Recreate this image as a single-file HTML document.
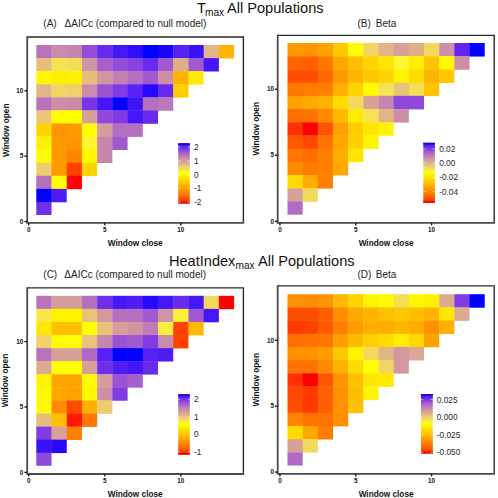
<!DOCTYPE html>
<html><head><meta charset="utf-8"><style>
html,body{margin:0;padding:0;background:#fff;}
svg{display:block;}
text{font-family:"Liberation Sans", sans-serif;}
.tt{font-size:14.6px;fill:#111;}
.sub{font-size:10.1px;fill:#111;}
.st{font-size:10px;fill:#222;}
.ax{font-size:8.25px;font-weight:bold;fill:#111;}
.tk{font-size:6.3px;fill:#111;font-weight:bold;}
.lg{font-size:8.3px;fill:#262626;}
</style></head><body><div class="bw">
<svg width="498" height="498" viewBox="0 0 498 498">
<defs><linearGradient id="g" x1="0" y1="0" x2="0" y2="1"><stop offset="0.000" stop-color="#0000ff"/><stop offset="0.025" stop-color="#3f14f9"/><stop offset="0.050" stop-color="#5821f3"/><stop offset="0.075" stop-color="#6a2dec"/><stop offset="0.100" stop-color="#803be3"/><stop offset="0.125" stop-color="#924ad9"/><stop offset="0.150" stop-color="#a159cf"/><stop offset="0.175" stop-color="#af67c5"/><stop offset="0.200" stop-color="#b973bc"/><stop offset="0.225" stop-color="#c27fb3"/><stop offset="0.250" stop-color="#ca8aaa"/><stop offset="0.275" stop-color="#d196a0"/><stop offset="0.300" stop-color="#d8a197"/><stop offset="0.325" stop-color="#dead8c"/><stop offset="0.350" stop-color="#e4b982"/><stop offset="0.375" stop-color="#eac476"/><stop offset="0.400" stop-color="#efd06a"/><stop offset="0.425" stop-color="#f3dc5b"/><stop offset="0.450" stop-color="#f8e74a"/><stop offset="0.475" stop-color="#fbf334"/><stop offset="0.500" stop-color="#ffff00"/><stop offset="0.525" stop-color="#fff600"/><stop offset="0.550" stop-color="#ffed00"/><stop offset="0.575" stop-color="#ffe400"/><stop offset="0.600" stop-color="#ffdb00"/><stop offset="0.625" stop-color="#ffd100"/><stop offset="0.650" stop-color="#ffc800"/><stop offset="0.675" stop-color="#ffbf00"/><stop offset="0.700" stop-color="#ffb500"/><stop offset="0.725" stop-color="#ffab00"/><stop offset="0.750" stop-color="#ffa100"/><stop offset="0.775" stop-color="#ff9700"/><stop offset="0.800" stop-color="#ff8d00"/><stop offset="0.825" stop-color="#ff8200"/><stop offset="0.850" stop-color="#ff7700"/><stop offset="0.875" stop-color="#ff6c00"/><stop offset="0.900" stop-color="#ff5f00"/><stop offset="0.925" stop-color="#ff5100"/><stop offset="0.950" stop-color="#ff4100"/><stop offset="0.975" stop-color="#ff2c00"/><stop offset="1.000" stop-color="#ff0000"/></linearGradient></defs>
<g><rect width="498" height="498" fill="#fff"/>

<text x="197.0" y="12.6" class="tt">T</text><text x="205.0" y="15.6" class="sub">max</text><text x="227.0" y="12.6" class="tt">All Populations</text>
<text x="168.9" y="265.6" class="tt">HeatIndex</text><text x="235.6" y="268.6" class="sub">max</text><text x="258.0" y="265.6" class="tt">All Populations</text>
<text x="43.3" y="27.0" class="st">(A)</text><text x="64.6" y="27.0" class="st">ΔAICc (compared to null model)</text>
<text x="357.5" y="27.1" class="st">(B)</text><text x="375.8" y="27.1" class="st">Beta</text>
<text x="43.3" y="278.3" class="st">(C)</text><text x="64.3" y="278.3" class="st">ΔAICc (compared to null model)</text>
<text x="357.5" y="278.1" class="st">(D)</text><text x="375.8" y="278.1" class="st">Beta</text>

<rect x="36.30" y="45.00" width="15.57" height="13.43" fill="#b973bc"/>
<rect x="51.52" y="45.00" width="15.57" height="13.43" fill="#ca8aaa"/>
<rect x="66.73" y="45.00" width="15.57" height="13.43" fill="#c786ad"/>
<rect x="81.95" y="45.00" width="15.57" height="13.43" fill="#954dd7"/>
<rect x="97.16" y="45.00" width="15.57" height="13.43" fill="#672aee"/>
<rect x="112.38" y="45.00" width="15.57" height="13.43" fill="#4517f8"/>
<rect x="127.59" y="45.00" width="15.57" height="13.43" fill="#300dfb"/>
<rect x="142.81" y="45.00" width="15.57" height="13.43" fill="#0000ff"/>
<rect x="158.02" y="45.00" width="15.57" height="13.43" fill="#1904fe"/>
<rect x="173.24" y="45.00" width="15.57" height="13.43" fill="#5821f3"/>
<rect x="188.45" y="45.00" width="15.57" height="13.43" fill="#3811fa"/>
<rect x="203.67" y="45.00" width="15.57" height="13.43" fill="#e2b486"/>
<rect x="218.88" y="45.00" width="15.22" height="13.43" fill="#ffb500"/>
<rect x="36.30" y="58.08" width="15.57" height="13.43" fill="#e7bd7d"/>
<rect x="51.52" y="58.08" width="15.57" height="13.43" fill="#f6e352"/>
<rect x="66.73" y="58.08" width="15.57" height="13.43" fill="#f4de58"/>
<rect x="81.95" y="58.08" width="15.57" height="13.43" fill="#d094a2"/>
<rect x="97.16" y="58.08" width="15.57" height="13.43" fill="#a75fcb"/>
<rect x="112.38" y="58.08" width="15.57" height="13.43" fill="#954dd7"/>
<rect x="127.59" y="58.08" width="15.57" height="13.43" fill="#8742df"/>
<rect x="142.81" y="58.08" width="15.57" height="13.43" fill="#672aee"/>
<rect x="158.02" y="58.08" width="15.57" height="13.43" fill="#a159cf"/>
<rect x="173.24" y="58.08" width="15.57" height="13.43" fill="#e0af8a"/>
<rect x="188.45" y="58.08" width="15.57" height="13.43" fill="#a159cf"/>
<rect x="203.67" y="58.08" width="15.22" height="13.43" fill="#4517f8"/>
<rect x="36.30" y="71.15" width="15.57" height="13.43" fill="#fff800"/>
<rect x="51.52" y="71.15" width="15.57" height="13.43" fill="#ffed00"/>
<rect x="66.73" y="71.15" width="15.57" height="13.43" fill="#fff000"/>
<rect x="81.95" y="71.15" width="15.57" height="13.43" fill="#e7bd7d"/>
<rect x="97.16" y="71.15" width="15.57" height="13.43" fill="#d094a2"/>
<rect x="112.38" y="71.15" width="15.57" height="13.43" fill="#c381b1"/>
<rect x="127.59" y="71.15" width="15.57" height="13.43" fill="#b56fbf"/>
<rect x="142.81" y="71.15" width="15.57" height="13.43" fill="#a159cf"/>
<rect x="158.02" y="71.15" width="15.57" height="13.43" fill="#cd8fa6"/>
<rect x="173.24" y="71.15" width="15.57" height="13.43" fill="#ffb100"/>
<rect x="188.45" y="71.15" width="15.22" height="13.43" fill="#ffe900"/>
<rect x="36.30" y="84.23" width="15.57" height="13.43" fill="#e2b486"/>
<rect x="51.52" y="84.23" width="15.57" height="13.43" fill="#f1d564"/>
<rect x="66.73" y="84.23" width="15.57" height="13.43" fill="#efd06a"/>
<rect x="81.95" y="84.23" width="15.57" height="13.43" fill="#ca8aaa"/>
<rect x="97.16" y="84.23" width="15.57" height="13.43" fill="#9b53d3"/>
<rect x="112.38" y="84.23" width="15.57" height="13.43" fill="#803be3"/>
<rect x="127.59" y="84.23" width="15.57" height="13.43" fill="#5821f3"/>
<rect x="142.81" y="84.23" width="15.57" height="13.43" fill="#2608fd"/>
<rect x="158.02" y="84.23" width="15.57" height="13.43" fill="#672aee"/>
<rect x="173.24" y="84.23" width="15.22" height="13.43" fill="#ffcc00"/>
<rect x="36.30" y="97.31" width="15.57" height="13.43" fill="#b973bc"/>
<rect x="51.52" y="97.31" width="15.57" height="13.43" fill="#cd8fa6"/>
<rect x="66.73" y="97.31" width="15.57" height="13.43" fill="#ca8aaa"/>
<rect x="81.95" y="97.31" width="15.57" height="13.43" fill="#7735e7"/>
<rect x="97.16" y="97.31" width="15.57" height="13.43" fill="#4517f8"/>
<rect x="112.38" y="97.31" width="15.57" height="13.43" fill="#0000ff"/>
<rect x="127.59" y="97.31" width="15.57" height="13.43" fill="#3f14f9"/>
<rect x="142.81" y="97.31" width="15.57" height="13.43" fill="#b56fbf"/>
<rect x="158.02" y="97.31" width="15.22" height="13.43" fill="#bc78b8"/>
<rect x="36.30" y="110.38" width="15.57" height="13.43" fill="#ebc774"/>
<rect x="51.52" y="110.38" width="15.57" height="13.43" fill="#ffff00"/>
<rect x="66.73" y="110.38" width="15.57" height="13.43" fill="#ffff00"/>
<rect x="81.95" y="110.38" width="15.57" height="13.43" fill="#d8a197"/>
<rect x="97.16" y="110.38" width="15.57" height="13.43" fill="#8f48db"/>
<rect x="112.38" y="110.38" width="15.57" height="13.43" fill="#803be3"/>
<rect x="127.59" y="110.38" width="15.57" height="13.43" fill="#4517f8"/>
<rect x="142.81" y="110.38" width="15.22" height="13.43" fill="#672aee"/>
<rect x="36.30" y="123.46" width="15.57" height="13.43" fill="#ffd300"/>
<rect x="51.52" y="123.46" width="15.57" height="13.43" fill="#ff9500"/>
<rect x="66.73" y="123.46" width="15.57" height="13.43" fill="#ff9900"/>
<rect x="81.95" y="123.46" width="15.57" height="13.43" fill="#ffff00"/>
<rect x="97.16" y="123.46" width="15.57" height="13.43" fill="#d59d9b"/>
<rect x="112.38" y="123.46" width="15.57" height="13.43" fill="#b56fbf"/>
<rect x="127.59" y="123.46" width="15.22" height="13.43" fill="#b56fbf"/>
<rect x="36.30" y="136.54" width="15.57" height="13.43" fill="#fff000"/>
<rect x="51.52" y="136.54" width="15.57" height="13.43" fill="#ff9900"/>
<rect x="66.73" y="136.54" width="15.57" height="13.43" fill="#ff9500"/>
<rect x="81.95" y="136.54" width="15.57" height="13.43" fill="#fcf62e"/>
<rect x="97.16" y="136.54" width="15.57" height="13.43" fill="#c786ad"/>
<rect x="112.38" y="136.54" width="15.22" height="13.43" fill="#a159cf"/>
<rect x="36.30" y="149.62" width="15.57" height="13.43" fill="#fffb00"/>
<rect x="51.52" y="149.62" width="15.57" height="13.43" fill="#ff9900"/>
<rect x="66.73" y="149.62" width="15.57" height="13.43" fill="#ff8500"/>
<rect x="81.95" y="149.62" width="15.57" height="13.43" fill="#fff800"/>
<rect x="97.16" y="149.62" width="15.22" height="13.43" fill="#c786ad"/>
<rect x="36.30" y="162.69" width="15.57" height="13.43" fill="#edcb6f"/>
<rect x="51.52" y="162.69" width="15.57" height="13.43" fill="#ff9900"/>
<rect x="66.73" y="162.69" width="15.57" height="13.43" fill="#ff4100"/>
<rect x="81.95" y="162.69" width="15.22" height="13.43" fill="#ffd300"/>
<rect x="36.30" y="175.77" width="15.57" height="13.43" fill="#b56fbf"/>
<rect x="51.52" y="175.77" width="15.57" height="13.43" fill="#ffff00"/>
<rect x="66.73" y="175.77" width="15.22" height="13.43" fill="#ff0000"/>
<rect x="36.30" y="188.85" width="15.57" height="13.43" fill="#0000ff"/>
<rect x="51.52" y="188.85" width="15.22" height="13.43" fill="#4f1cf5"/>
<rect x="36.30" y="201.92" width="15.22" height="13.08" fill="#6e2feb"/>
<path d="M27.20,37.00H243.40V222.90" fill="none" stroke="#2a2a2a" stroke-width="1.4"/>
<path d="M27.20,36.30V222.90H244.10" fill="none" stroke="#4a4a4a" stroke-width="1.8"/>
<line x1="28.69" y1="222.90" x2="28.69" y2="225.50" stroke="#111" stroke-width="1.3"/>
<text x="28.69" y="231.80" text-anchor="middle" class="tk">0</text>
<line x1="24.40" y1="221.54" x2="27.20" y2="221.54" stroke="#111" stroke-width="1.3"/>
<text x="23.30" y="223.74" text-anchor="end" class="tk">0</text>
<line x1="104.77" y1="222.90" x2="104.77" y2="225.50" stroke="#111" stroke-width="1.3"/>
<text x="104.77" y="231.80" text-anchor="middle" class="tk">5</text>
<line x1="24.40" y1="156.15" x2="27.20" y2="156.15" stroke="#111" stroke-width="1.3"/>
<text x="23.30" y="158.35" text-anchor="end" class="tk">5</text>
<line x1="180.85" y1="222.90" x2="180.85" y2="225.50" stroke="#111" stroke-width="1.3"/>
<text x="180.85" y="231.80" text-anchor="middle" class="tk">10</text>
<line x1="24.40" y1="90.77" x2="27.20" y2="90.77" stroke="#111" stroke-width="1.3"/>
<text x="23.30" y="92.97" text-anchor="end" class="tk">10</text>
<text x="135.20" y="246.10" text-anchor="middle" class="ax">Window close</text>
<text transform="translate(8.60,130.30) rotate(-90)" text-anchor="middle" class="ax">Window open</text>
<rect x="178.20" y="143.30" width="11.60" height="60.20" fill="url(#g)"/>
<rect x="178.20" y="143.30" width="11.60" height="1.6" fill="#1808d8"/>
<rect x="178.20" y="201.70" width="11.60" height="1.8" fill="#e80808"/>
<path d="M178.20,146.90h2.3M187.50,146.90h2.3" stroke="#fff" stroke-width="0.6" opacity="0.8"/>
<path d="M178.20,160.70h2.3M187.50,160.70h2.3" stroke="#fff" stroke-width="0.6" opacity="0.8"/>
<path d="M178.20,174.50h2.3M187.50,174.50h2.3" stroke="#fff" stroke-width="0.6" opacity="0.8"/>
<path d="M178.20,188.20h2.3M187.50,188.20h2.3" stroke="#fff" stroke-width="0.6" opacity="0.8"/>
<path d="M178.20,202.00h2.3M187.50,202.00h2.3" stroke="#fff" stroke-width="0.6" opacity="0.8"/>
<text x="194.00" y="149.90" class="lg">2</text>
<text x="194.00" y="163.70" class="lg">1</text>
<text x="194.00" y="177.50" class="lg">0</text>
<text x="194.00" y="191.20" class="lg">-1</text>
<text x="194.00" y="205.00" class="lg">-2</text>
<rect x="287.50" y="43.00" width="15.52" height="13.56" fill="#ff9900"/>
<rect x="302.67" y="43.00" width="15.52" height="13.56" fill="#ff9500"/>
<rect x="317.84" y="43.00" width="15.52" height="13.56" fill="#ffa100"/>
<rect x="333.01" y="43.00" width="15.52" height="13.56" fill="#ffc800"/>
<rect x="348.18" y="43.00" width="15.52" height="13.56" fill="#fffb00"/>
<rect x="363.35" y="43.00" width="15.52" height="13.56" fill="#f1d564"/>
<rect x="378.52" y="43.00" width="15.52" height="13.56" fill="#e2b486"/>
<rect x="393.68" y="43.00" width="15.52" height="13.56" fill="#d8a197"/>
<rect x="408.85" y="43.00" width="15.52" height="13.56" fill="#e0af8a"/>
<rect x="424.02" y="43.00" width="15.52" height="13.56" fill="#f2d95e"/>
<rect x="439.19" y="43.00" width="15.52" height="13.56" fill="#cd8fa6"/>
<rect x="454.36" y="43.00" width="15.52" height="13.56" fill="#6026f0"/>
<rect x="469.53" y="43.00" width="15.17" height="13.56" fill="#0000ff"/>
<rect x="287.50" y="56.21" width="15.52" height="13.56" fill="#ff6400"/>
<rect x="302.67" y="56.21" width="15.52" height="13.56" fill="#ff5f00"/>
<rect x="317.84" y="56.21" width="15.52" height="13.56" fill="#ff7700"/>
<rect x="333.01" y="56.21" width="15.52" height="13.56" fill="#ffa900"/>
<rect x="348.18" y="56.21" width="15.52" height="13.56" fill="#ffc000"/>
<rect x="363.35" y="56.21" width="15.52" height="13.56" fill="#ffd300"/>
<rect x="378.52" y="56.21" width="15.52" height="13.56" fill="#ffe600"/>
<rect x="393.68" y="56.21" width="15.52" height="13.56" fill="#fcf62e"/>
<rect x="408.85" y="56.21" width="15.52" height="13.56" fill="#fff000"/>
<rect x="424.02" y="56.21" width="15.52" height="13.56" fill="#ffc400"/>
<rect x="439.19" y="56.21" width="15.52" height="13.56" fill="#fff800"/>
<rect x="454.36" y="56.21" width="15.17" height="13.56" fill="#cd8fa6"/>
<rect x="287.50" y="69.42" width="15.52" height="13.56" fill="#ff4e00"/>
<rect x="302.67" y="69.42" width="15.52" height="13.56" fill="#ff4e00"/>
<rect x="317.84" y="69.42" width="15.52" height="13.56" fill="#ff6900"/>
<rect x="333.01" y="69.42" width="15.52" height="13.56" fill="#ff9900"/>
<rect x="348.18" y="69.42" width="15.52" height="13.56" fill="#ffb500"/>
<rect x="363.35" y="69.42" width="15.52" height="13.56" fill="#ffc800"/>
<rect x="378.52" y="69.42" width="15.52" height="13.56" fill="#ffd300"/>
<rect x="393.68" y="69.42" width="15.52" height="13.56" fill="#fff400"/>
<rect x="408.85" y="69.42" width="15.52" height="13.56" fill="#ffdb00"/>
<rect x="424.02" y="69.42" width="15.52" height="13.56" fill="#ffb500"/>
<rect x="439.19" y="69.42" width="15.17" height="13.56" fill="#ffc800"/>
<rect x="287.50" y="82.62" width="15.52" height="13.56" fill="#ff7700"/>
<rect x="302.67" y="82.62" width="15.52" height="13.56" fill="#ff7c00"/>
<rect x="317.84" y="82.62" width="15.52" height="13.56" fill="#ff8000"/>
<rect x="333.01" y="82.62" width="15.52" height="13.56" fill="#ffb100"/>
<rect x="348.18" y="82.62" width="15.52" height="13.56" fill="#ffd300"/>
<rect x="363.35" y="82.62" width="15.52" height="13.56" fill="#fffb00"/>
<rect x="378.52" y="82.62" width="15.52" height="13.56" fill="#f6e352"/>
<rect x="393.68" y="82.62" width="15.52" height="13.56" fill="#e9c279"/>
<rect x="408.85" y="82.62" width="15.52" height="13.56" fill="#f4de58"/>
<rect x="424.02" y="82.62" width="15.17" height="13.56" fill="#ffc400"/>
<rect x="287.50" y="95.83" width="15.52" height="13.56" fill="#ffa100"/>
<rect x="302.67" y="95.83" width="15.52" height="13.56" fill="#ffa900"/>
<rect x="317.84" y="95.83" width="15.52" height="13.56" fill="#ffb100"/>
<rect x="333.01" y="95.83" width="15.52" height="13.56" fill="#ffdb00"/>
<rect x="348.18" y="95.83" width="15.52" height="13.56" fill="#f2d95e"/>
<rect x="363.35" y="95.83" width="15.52" height="13.56" fill="#d8a197"/>
<rect x="378.52" y="95.83" width="15.52" height="13.56" fill="#c786ad"/>
<rect x="393.68" y="95.83" width="15.52" height="13.56" fill="#8f48db"/>
<rect x="408.85" y="95.83" width="15.17" height="13.56" fill="#8f48db"/>
<rect x="287.50" y="109.04" width="15.52" height="13.56" fill="#ff6e00"/>
<rect x="302.67" y="109.04" width="15.52" height="13.56" fill="#ff7300"/>
<rect x="317.84" y="109.04" width="15.52" height="13.56" fill="#ff8900"/>
<rect x="333.01" y="109.04" width="15.52" height="13.56" fill="#ffb900"/>
<rect x="348.18" y="109.04" width="15.52" height="13.56" fill="#ffe900"/>
<rect x="363.35" y="109.04" width="15.52" height="13.56" fill="#f6e352"/>
<rect x="378.52" y="109.04" width="15.52" height="13.56" fill="#e2b486"/>
<rect x="393.68" y="109.04" width="15.17" height="13.56" fill="#cd8fa6"/>
<rect x="287.50" y="122.25" width="15.52" height="13.56" fill="#ff3100"/>
<rect x="302.67" y="122.25" width="15.52" height="13.56" fill="#ff0000"/>
<rect x="317.84" y="122.25" width="15.52" height="13.56" fill="#ff5400"/>
<rect x="333.01" y="122.25" width="15.52" height="13.56" fill="#ffa100"/>
<rect x="348.18" y="122.25" width="15.52" height="13.56" fill="#ffcc00"/>
<rect x="363.35" y="122.25" width="15.52" height="13.56" fill="#ffe600"/>
<rect x="378.52" y="122.25" width="15.17" height="13.56" fill="#fff400"/>
<rect x="287.50" y="135.45" width="15.52" height="13.56" fill="#ff5a00"/>
<rect x="302.67" y="135.45" width="15.52" height="13.56" fill="#ff4800"/>
<rect x="317.84" y="135.45" width="15.52" height="13.56" fill="#ff7300"/>
<rect x="333.01" y="135.45" width="15.52" height="13.56" fill="#ffa900"/>
<rect x="348.18" y="135.45" width="15.52" height="13.56" fill="#ffcf00"/>
<rect x="363.35" y="135.45" width="15.17" height="13.56" fill="#fff400"/>
<rect x="287.50" y="148.66" width="15.52" height="13.56" fill="#ff7700"/>
<rect x="302.67" y="148.66" width="15.52" height="13.56" fill="#ff6e00"/>
<rect x="317.84" y="148.66" width="15.52" height="13.56" fill="#ff8000"/>
<rect x="333.01" y="148.66" width="15.52" height="13.56" fill="#ffad00"/>
<rect x="348.18" y="148.66" width="15.17" height="13.56" fill="#ffe600"/>
<rect x="287.50" y="161.87" width="15.52" height="13.56" fill="#ff8d00"/>
<rect x="302.67" y="161.87" width="15.52" height="13.56" fill="#ff7c00"/>
<rect x="317.84" y="161.87" width="15.52" height="13.56" fill="#ff8000"/>
<rect x="333.01" y="161.87" width="15.17" height="13.56" fill="#ffa900"/>
<rect x="287.50" y="175.08" width="15.52" height="13.56" fill="#ffdb00"/>
<rect x="302.67" y="175.08" width="15.52" height="13.56" fill="#ffad00"/>
<rect x="317.84" y="175.08" width="15.17" height="13.56" fill="#ff8000"/>
<rect x="287.50" y="188.28" width="15.52" height="13.56" fill="#d8a197"/>
<rect x="302.67" y="188.28" width="15.17" height="13.56" fill="#f2d95e"/>
<rect x="287.50" y="201.49" width="15.17" height="13.21" fill="#b16ac3"/>
<path d="M277.70,35.40H494.20V222.90" fill="none" stroke="#2a2a2a" stroke-width="1.4"/>
<path d="M277.70,34.70V222.90H494.90" fill="none" stroke="#4a4a4a" stroke-width="1.8"/>
<line x1="279.92" y1="222.90" x2="279.92" y2="225.50" stroke="#111" stroke-width="1.3"/>
<text x="279.92" y="231.80" text-anchor="middle" class="tk">0</text>
<line x1="274.90" y1="221.30" x2="277.70" y2="221.30" stroke="#111" stroke-width="1.3"/>
<text x="274.00" y="223.50" text-anchor="end" class="tk">0</text>
<line x1="355.76" y1="222.90" x2="355.76" y2="225.50" stroke="#111" stroke-width="1.3"/>
<text x="355.76" y="231.80" text-anchor="middle" class="tk">5</text>
<line x1="274.90" y1="155.27" x2="277.70" y2="155.27" stroke="#111" stroke-width="1.3"/>
<text x="274.00" y="157.47" text-anchor="end" class="tk">5</text>
<line x1="431.61" y1="222.90" x2="431.61" y2="225.50" stroke="#111" stroke-width="1.3"/>
<text x="431.61" y="231.80" text-anchor="middle" class="tk">10</text>
<line x1="274.90" y1="89.23" x2="277.70" y2="89.23" stroke="#111" stroke-width="1.3"/>
<text x="274.00" y="91.43" text-anchor="end" class="tk">10</text>
<text x="386.10" y="245.90" text-anchor="middle" class="ax">Window close</text>
<text transform="translate(258.70,128.80) rotate(-90)" text-anchor="middle" class="ax">Window open</text>
<rect x="423.30" y="142.80" width="11.60" height="60.00" fill="url(#g)"/>
<rect x="423.30" y="142.80" width="11.60" height="1.6" fill="#1808d8"/>
<rect x="423.30" y="201.00" width="11.60" height="1.8" fill="#e80808"/>
<path d="M423.30,148.90h2.3M432.60,148.90h2.3" stroke="#fff" stroke-width="0.6" opacity="0.8"/>
<path d="M423.30,162.90h2.3M432.60,162.90h2.3" stroke="#fff" stroke-width="0.6" opacity="0.8"/>
<path d="M423.30,177.20h2.3M432.60,177.20h2.3" stroke="#fff" stroke-width="0.6" opacity="0.8"/>
<path d="M423.30,191.50h2.3M432.60,191.50h2.3" stroke="#fff" stroke-width="0.6" opacity="0.8"/>
<text x="439.20" y="151.90" class="lg">0.02</text>
<text x="439.20" y="165.90" class="lg">0.00</text>
<text x="439.20" y="180.20" class="lg">-0.02</text>
<text x="439.20" y="194.50" class="lg">-0.04</text>
<rect x="36.30" y="295.80" width="15.57" height="13.43" fill="#b973bc"/>
<rect x="51.52" y="295.80" width="15.57" height="13.43" fill="#d59d9b"/>
<rect x="66.73" y="295.80" width="15.57" height="13.43" fill="#d59d9b"/>
<rect x="81.95" y="295.80" width="15.57" height="13.43" fill="#b56fbf"/>
<rect x="97.16" y="295.80" width="15.57" height="13.43" fill="#6e2feb"/>
<rect x="112.38" y="295.80" width="15.57" height="13.43" fill="#4517f8"/>
<rect x="127.59" y="295.80" width="15.57" height="13.43" fill="#4f1cf5"/>
<rect x="142.81" y="295.80" width="15.57" height="13.43" fill="#2608fd"/>
<rect x="158.02" y="295.80" width="15.57" height="13.43" fill="#4517f8"/>
<rect x="173.24" y="295.80" width="15.57" height="13.43" fill="#672aee"/>
<rect x="188.45" y="295.80" width="15.57" height="13.43" fill="#4517f8"/>
<rect x="203.67" y="295.80" width="15.57" height="13.43" fill="#f2d95e"/>
<rect x="218.88" y="295.80" width="15.22" height="13.43" fill="#ff0000"/>
<rect x="36.30" y="308.88" width="15.57" height="13.43" fill="#f8e74a"/>
<rect x="51.52" y="308.88" width="15.57" height="13.43" fill="#fff400"/>
<rect x="66.73" y="308.88" width="15.57" height="13.43" fill="#fff400"/>
<rect x="81.95" y="308.88" width="15.57" height="13.43" fill="#e9c279"/>
<rect x="97.16" y="308.88" width="15.57" height="13.43" fill="#d3989e"/>
<rect x="112.38" y="308.88" width="15.57" height="13.43" fill="#b56fbf"/>
<rect x="127.59" y="308.88" width="15.57" height="13.43" fill="#b56fbf"/>
<rect x="142.81" y="308.88" width="15.57" height="13.43" fill="#a159cf"/>
<rect x="158.02" y="308.88" width="15.57" height="13.43" fill="#d094a2"/>
<rect x="173.24" y="308.88" width="15.57" height="13.43" fill="#fbf139"/>
<rect x="188.45" y="308.88" width="15.57" height="13.43" fill="#a159cf"/>
<rect x="203.67" y="308.88" width="15.22" height="13.43" fill="#4517f8"/>
<rect x="36.30" y="321.95" width="15.57" height="13.43" fill="#ffe600"/>
<rect x="51.52" y="321.95" width="15.57" height="13.43" fill="#ffc000"/>
<rect x="66.73" y="321.95" width="15.57" height="13.43" fill="#ffc000"/>
<rect x="81.95" y="321.95" width="15.57" height="13.43" fill="#ffff00"/>
<rect x="97.16" y="321.95" width="15.57" height="13.43" fill="#e9c279"/>
<rect x="112.38" y="321.95" width="15.57" height="13.43" fill="#d59d9b"/>
<rect x="127.59" y="321.95" width="15.57" height="13.43" fill="#d094a2"/>
<rect x="142.81" y="321.95" width="15.57" height="13.43" fill="#c07cb5"/>
<rect x="158.02" y="321.95" width="15.57" height="13.43" fill="#f9ec42"/>
<rect x="173.24" y="321.95" width="15.57" height="13.43" fill="#ff4100"/>
<rect x="188.45" y="321.95" width="15.22" height="13.43" fill="#ffb900"/>
<rect x="36.30" y="335.03" width="15.57" height="13.43" fill="#efd06a"/>
<rect x="51.52" y="335.03" width="15.57" height="13.43" fill="#fffb00"/>
<rect x="66.73" y="335.03" width="15.57" height="13.43" fill="#fffb00"/>
<rect x="81.95" y="335.03" width="15.57" height="13.43" fill="#e9c279"/>
<rect x="97.16" y="335.03" width="15.57" height="13.43" fill="#c786ad"/>
<rect x="112.38" y="335.03" width="15.57" height="13.43" fill="#9b53d3"/>
<rect x="127.59" y="335.03" width="15.57" height="13.43" fill="#a159cf"/>
<rect x="142.81" y="335.03" width="15.57" height="13.43" fill="#803be3"/>
<rect x="158.02" y="335.03" width="15.57" height="13.43" fill="#ca8aaa"/>
<rect x="173.24" y="335.03" width="15.22" height="13.43" fill="#ff4100"/>
<rect x="36.30" y="348.11" width="15.57" height="13.43" fill="#b973bc"/>
<rect x="51.52" y="348.11" width="15.57" height="13.43" fill="#d8a197"/>
<rect x="66.73" y="348.11" width="15.57" height="13.43" fill="#d8a197"/>
<rect x="81.95" y="348.11" width="15.57" height="13.43" fill="#b16ac3"/>
<rect x="97.16" y="348.11" width="15.57" height="13.43" fill="#5821f3"/>
<rect x="112.38" y="348.11" width="15.57" height="13.43" fill="#0000ff"/>
<rect x="127.59" y="348.11" width="15.57" height="13.43" fill="#0000ff"/>
<rect x="142.81" y="348.11" width="15.57" height="13.43" fill="#5821f3"/>
<rect x="158.02" y="348.11" width="15.22" height="13.43" fill="#4f1cf5"/>
<rect x="36.30" y="361.18" width="15.57" height="13.43" fill="#ddab8f"/>
<rect x="51.52" y="361.18" width="15.57" height="13.43" fill="#ffff00"/>
<rect x="66.73" y="361.18" width="15.57" height="13.43" fill="#ffff00"/>
<rect x="81.95" y="361.18" width="15.57" height="13.43" fill="#d8a197"/>
<rect x="97.16" y="361.18" width="15.57" height="13.43" fill="#6e2feb"/>
<rect x="112.38" y="361.18" width="15.57" height="13.43" fill="#4f1cf5"/>
<rect x="127.59" y="361.18" width="15.57" height="13.43" fill="#4517f8"/>
<rect x="142.81" y="361.18" width="15.22" height="13.43" fill="#672aee"/>
<rect x="36.30" y="374.26" width="15.57" height="13.43" fill="#fff400"/>
<rect x="51.52" y="374.26" width="15.57" height="13.43" fill="#ffa500"/>
<rect x="66.73" y="374.26" width="15.57" height="13.43" fill="#ffa500"/>
<rect x="81.95" y="374.26" width="15.57" height="13.43" fill="#fffb00"/>
<rect x="97.16" y="374.26" width="15.57" height="13.43" fill="#d59d9b"/>
<rect x="112.38" y="374.26" width="15.57" height="13.43" fill="#9b53d3"/>
<rect x="127.59" y="374.26" width="15.22" height="13.43" fill="#a75fcb"/>
<rect x="36.30" y="387.34" width="15.57" height="13.43" fill="#fff800"/>
<rect x="51.52" y="387.34" width="15.57" height="13.43" fill="#ffa900"/>
<rect x="66.73" y="387.34" width="15.57" height="13.43" fill="#ffa100"/>
<rect x="81.95" y="387.34" width="15.57" height="13.43" fill="#fff800"/>
<rect x="97.16" y="387.34" width="15.57" height="13.43" fill="#cd8fa6"/>
<rect x="112.38" y="387.34" width="15.22" height="13.43" fill="#803be3"/>
<rect x="36.30" y="400.42" width="15.57" height="13.43" fill="#fff800"/>
<rect x="51.52" y="400.42" width="15.57" height="13.43" fill="#ff8900"/>
<rect x="66.73" y="400.42" width="15.57" height="13.43" fill="#ff4800"/>
<rect x="81.95" y="400.42" width="15.57" height="13.43" fill="#ffb100"/>
<rect x="97.16" y="400.42" width="15.22" height="13.43" fill="#edcb6f"/>
<rect x="36.30" y="413.49" width="15.57" height="13.43" fill="#e7bd7d"/>
<rect x="51.52" y="413.49" width="15.57" height="13.43" fill="#ffc000"/>
<rect x="66.73" y="413.49" width="15.57" height="13.43" fill="#ff1900"/>
<rect x="81.95" y="413.49" width="15.22" height="13.43" fill="#ff7700"/>
<rect x="36.30" y="426.57" width="15.57" height="13.43" fill="#803be3"/>
<rect x="51.52" y="426.57" width="15.57" height="13.43" fill="#d8a197"/>
<rect x="66.73" y="426.57" width="15.22" height="13.43" fill="#ff8000"/>
<rect x="36.30" y="439.65" width="15.57" height="13.43" fill="#3811fa"/>
<rect x="51.52" y="439.65" width="15.22" height="13.43" fill="#2608fd"/>
<rect x="36.30" y="452.72" width="15.22" height="13.08" fill="#8f48db"/>
<path d="M27.20,287.90H243.40V474.00" fill="none" stroke="#2a2a2a" stroke-width="1.4"/>
<path d="M27.20,287.20V474.00H244.10" fill="none" stroke="#4a4a4a" stroke-width="1.8"/>
<line x1="28.69" y1="474.00" x2="28.69" y2="476.60" stroke="#111" stroke-width="1.3"/>
<text x="28.69" y="482.80" text-anchor="middle" class="tk">0</text>
<line x1="24.40" y1="472.34" x2="27.20" y2="472.34" stroke="#111" stroke-width="1.3"/>
<text x="23.30" y="474.54" text-anchor="end" class="tk">0</text>
<line x1="104.77" y1="474.00" x2="104.77" y2="476.60" stroke="#111" stroke-width="1.3"/>
<text x="104.77" y="482.80" text-anchor="middle" class="tk">5</text>
<line x1="24.40" y1="406.95" x2="27.20" y2="406.95" stroke="#111" stroke-width="1.3"/>
<text x="23.30" y="409.15" text-anchor="end" class="tk">5</text>
<line x1="180.85" y1="474.00" x2="180.85" y2="476.60" stroke="#111" stroke-width="1.3"/>
<text x="180.85" y="482.80" text-anchor="middle" class="tk">10</text>
<line x1="24.40" y1="341.57" x2="27.20" y2="341.57" stroke="#111" stroke-width="1.3"/>
<text x="23.30" y="343.77" text-anchor="end" class="tk">10</text>
<text x="135.20" y="497.00" text-anchor="middle" class="ax">Window close</text>
<text transform="translate(8.30,380.60) rotate(-90)" text-anchor="middle" class="ax">Window open</text>
<rect x="178.20" y="394.30" width="11.60" height="60.30" fill="url(#g)"/>
<rect x="178.20" y="394.30" width="11.60" height="1.6" fill="#1808d8"/>
<rect x="178.20" y="452.80" width="11.60" height="1.8" fill="#e80808"/>
<path d="M178.20,399.30h2.3M187.50,399.30h2.3" stroke="#fff" stroke-width="0.6" opacity="0.8"/>
<path d="M178.20,416.90h2.3M187.50,416.90h2.3" stroke="#fff" stroke-width="0.6" opacity="0.8"/>
<path d="M178.20,434.40h2.3M187.50,434.40h2.3" stroke="#fff" stroke-width="0.6" opacity="0.8"/>
<path d="M178.20,452.00h2.3M187.50,452.00h2.3" stroke="#fff" stroke-width="0.6" opacity="0.8"/>
<text x="194.00" y="402.30" class="lg">2</text>
<text x="194.00" y="419.90" class="lg">1</text>
<text x="194.00" y="437.40" class="lg">0</text>
<text x="194.00" y="455.00" class="lg">-1</text>
<rect x="287.50" y="294.20" width="15.52" height="13.53" fill="#ff9100"/>
<rect x="302.67" y="294.20" width="15.52" height="13.53" fill="#ff8d00"/>
<rect x="317.84" y="294.20" width="15.52" height="13.53" fill="#ff9500"/>
<rect x="333.01" y="294.20" width="15.52" height="13.53" fill="#ffb900"/>
<rect x="348.18" y="294.20" width="15.52" height="13.53" fill="#ffd300"/>
<rect x="363.35" y="294.20" width="15.52" height="13.53" fill="#fff400"/>
<rect x="378.52" y="294.20" width="15.52" height="13.53" fill="#fff800"/>
<rect x="393.68" y="294.20" width="15.52" height="13.53" fill="#f4de58"/>
<rect x="408.85" y="294.20" width="15.52" height="13.53" fill="#fff800"/>
<rect x="424.02" y="294.20" width="15.52" height="13.53" fill="#fff000"/>
<rect x="439.19" y="294.20" width="15.52" height="13.53" fill="#ddab8f"/>
<rect x="454.36" y="294.20" width="15.52" height="13.53" fill="#803be3"/>
<rect x="469.53" y="294.20" width="15.17" height="13.53" fill="#0000ff"/>
<rect x="287.50" y="307.38" width="15.52" height="13.53" fill="#ff4e00"/>
<rect x="302.67" y="307.38" width="15.52" height="13.53" fill="#ff4e00"/>
<rect x="317.84" y="307.38" width="15.52" height="13.53" fill="#ff5f00"/>
<rect x="333.01" y="307.38" width="15.52" height="13.53" fill="#ff8d00"/>
<rect x="348.18" y="307.38" width="15.52" height="13.53" fill="#ffa900"/>
<rect x="363.35" y="307.38" width="15.52" height="13.53" fill="#ffb500"/>
<rect x="378.52" y="307.38" width="15.52" height="13.53" fill="#ffc000"/>
<rect x="393.68" y="307.38" width="15.52" height="13.53" fill="#ffc800"/>
<rect x="408.85" y="307.38" width="15.52" height="13.53" fill="#ffbd00"/>
<rect x="424.02" y="307.38" width="15.52" height="13.53" fill="#ffb500"/>
<rect x="439.19" y="307.38" width="15.52" height="13.53" fill="#ffe600"/>
<rect x="454.36" y="307.38" width="15.17" height="13.53" fill="#ddab8f"/>
<rect x="287.50" y="320.55" width="15.52" height="13.53" fill="#ff3900"/>
<rect x="302.67" y="320.55" width="15.52" height="13.53" fill="#ff4100"/>
<rect x="317.84" y="320.55" width="15.52" height="13.53" fill="#ff5a00"/>
<rect x="333.01" y="320.55" width="15.52" height="13.53" fill="#ff8000"/>
<rect x="348.18" y="320.55" width="15.52" height="13.53" fill="#ff9d00"/>
<rect x="363.35" y="320.55" width="15.52" height="13.53" fill="#ffad00"/>
<rect x="378.52" y="320.55" width="15.52" height="13.53" fill="#ffad00"/>
<rect x="393.68" y="320.55" width="15.52" height="13.53" fill="#ffb500"/>
<rect x="408.85" y="320.55" width="15.52" height="13.53" fill="#ffad00"/>
<rect x="424.02" y="320.55" width="15.52" height="13.53" fill="#ff9100"/>
<rect x="439.19" y="320.55" width="15.17" height="13.53" fill="#ffb100"/>
<rect x="287.50" y="333.73" width="15.52" height="13.53" fill="#ff6e00"/>
<rect x="302.67" y="333.73" width="15.52" height="13.53" fill="#ff7300"/>
<rect x="317.84" y="333.73" width="15.52" height="13.53" fill="#ff7700"/>
<rect x="333.01" y="333.73" width="15.52" height="13.53" fill="#ff9d00"/>
<rect x="348.18" y="333.73" width="15.52" height="13.53" fill="#ffb900"/>
<rect x="363.35" y="333.73" width="15.52" height="13.53" fill="#ffcf00"/>
<rect x="378.52" y="333.73" width="15.52" height="13.53" fill="#ffdb00"/>
<rect x="393.68" y="333.73" width="15.52" height="13.53" fill="#ffed00"/>
<rect x="408.85" y="333.73" width="15.52" height="13.53" fill="#ffd700"/>
<rect x="424.02" y="333.73" width="15.17" height="13.53" fill="#ffa100"/>
<rect x="287.50" y="346.91" width="15.52" height="13.53" fill="#ff9100"/>
<rect x="302.67" y="346.91" width="15.52" height="13.53" fill="#ff9100"/>
<rect x="317.84" y="346.91" width="15.52" height="13.53" fill="#ff9d00"/>
<rect x="333.01" y="346.91" width="15.52" height="13.53" fill="#ffc800"/>
<rect x="348.18" y="346.91" width="15.52" height="13.53" fill="#fff400"/>
<rect x="363.35" y="346.91" width="15.52" height="13.53" fill="#f2d95e"/>
<rect x="378.52" y="346.91" width="15.52" height="13.53" fill="#e2b486"/>
<rect x="393.68" y="346.91" width="15.52" height="13.53" fill="#d3989e"/>
<rect x="408.85" y="346.91" width="15.17" height="13.53" fill="#dba693"/>
<rect x="287.50" y="360.08" width="15.52" height="13.53" fill="#ff7300"/>
<rect x="302.67" y="360.08" width="15.52" height="13.53" fill="#ff7300"/>
<rect x="317.84" y="360.08" width="15.52" height="13.53" fill="#ff8900"/>
<rect x="333.01" y="360.08" width="15.52" height="13.53" fill="#ffb100"/>
<rect x="348.18" y="360.08" width="15.52" height="13.53" fill="#ffdb00"/>
<rect x="363.35" y="360.08" width="15.52" height="13.53" fill="#ffff00"/>
<rect x="378.52" y="360.08" width="15.52" height="13.53" fill="#f1d564"/>
<rect x="393.68" y="360.08" width="15.17" height="13.53" fill="#d3989e"/>
<rect x="287.50" y="373.26" width="15.52" height="13.53" fill="#ff3100"/>
<rect x="302.67" y="373.26" width="15.52" height="13.53" fill="#ff0000"/>
<rect x="317.84" y="373.26" width="15.52" height="13.53" fill="#ff5400"/>
<rect x="333.01" y="373.26" width="15.52" height="13.53" fill="#ff9500"/>
<rect x="348.18" y="373.26" width="15.52" height="13.53" fill="#ffc000"/>
<rect x="363.35" y="373.26" width="15.52" height="13.53" fill="#ffe600"/>
<rect x="378.52" y="373.26" width="15.17" height="13.53" fill="#ffe900"/>
<rect x="287.50" y="386.44" width="15.52" height="13.53" fill="#ff4800"/>
<rect x="302.67" y="386.44" width="15.52" height="13.53" fill="#ff3900"/>
<rect x="317.84" y="386.44" width="15.52" height="13.53" fill="#ff5f00"/>
<rect x="333.01" y="386.44" width="15.52" height="13.53" fill="#ff9100"/>
<rect x="348.18" y="386.44" width="15.52" height="13.53" fill="#ffbd00"/>
<rect x="363.35" y="386.44" width="15.17" height="13.53" fill="#fff400"/>
<rect x="287.50" y="399.62" width="15.52" height="13.53" fill="#ff4e00"/>
<rect x="302.67" y="399.62" width="15.52" height="13.53" fill="#ff3900"/>
<rect x="317.84" y="399.62" width="15.52" height="13.53" fill="#ff5f00"/>
<rect x="333.01" y="399.62" width="15.52" height="13.53" fill="#ff9100"/>
<rect x="348.18" y="399.62" width="15.17" height="13.53" fill="#ffc000"/>
<rect x="287.50" y="412.79" width="15.52" height="13.53" fill="#ff8500"/>
<rect x="302.67" y="412.79" width="15.52" height="13.53" fill="#ff7300"/>
<rect x="317.84" y="412.79" width="15.52" height="13.53" fill="#ff7300"/>
<rect x="333.01" y="412.79" width="15.17" height="13.53" fill="#ff8d00"/>
<rect x="287.50" y="425.97" width="15.52" height="13.53" fill="#ffdb00"/>
<rect x="302.67" y="425.97" width="15.52" height="13.53" fill="#ffa900"/>
<rect x="317.84" y="425.97" width="15.17" height="13.53" fill="#ff7c00"/>
<rect x="287.50" y="439.15" width="15.52" height="13.53" fill="#d8a197"/>
<rect x="302.67" y="439.15" width="15.17" height="13.53" fill="#f2d95e"/>
<rect x="287.50" y="452.32" width="15.17" height="13.18" fill="#b16ac3"/>
<path d="M277.70,285.90H494.20V473.80" fill="none" stroke="#2a2a2a" stroke-width="1.4"/>
<path d="M277.70,285.20V473.80H494.90" fill="none" stroke="#4a4a4a" stroke-width="1.8"/>
<line x1="279.92" y1="473.80" x2="279.92" y2="476.40" stroke="#111" stroke-width="1.3"/>
<text x="279.92" y="482.80" text-anchor="middle" class="tk">0</text>
<line x1="274.90" y1="472.09" x2="277.70" y2="472.09" stroke="#111" stroke-width="1.3"/>
<text x="274.00" y="474.29" text-anchor="end" class="tk">0</text>
<line x1="355.76" y1="473.80" x2="355.76" y2="476.40" stroke="#111" stroke-width="1.3"/>
<text x="355.76" y="482.80" text-anchor="middle" class="tk">5</text>
<line x1="274.90" y1="406.20" x2="277.70" y2="406.20" stroke="#111" stroke-width="1.3"/>
<text x="274.00" y="408.40" text-anchor="end" class="tk">5</text>
<line x1="431.61" y1="473.80" x2="431.61" y2="476.40" stroke="#111" stroke-width="1.3"/>
<text x="431.61" y="482.80" text-anchor="middle" class="tk">10</text>
<line x1="274.90" y1="340.32" x2="277.70" y2="340.32" stroke="#111" stroke-width="1.3"/>
<text x="274.00" y="342.52" text-anchor="end" class="tk">10</text>
<text x="386.10" y="496.90" text-anchor="middle" class="ax">Window close</text>
<text transform="translate(258.70,379.80) rotate(-90)" text-anchor="middle" class="ax">Window open</text>
<rect x="421.00" y="394.00" width="11.80" height="59.50" fill="url(#g)"/>
<rect x="421.00" y="394.00" width="11.80" height="1.6" fill="#1808d8"/>
<rect x="421.00" y="451.70" width="11.80" height="1.8" fill="#e80808"/>
<path d="M421.00,399.50h2.3M430.50,399.50h2.3" stroke="#fff" stroke-width="0.6" opacity="0.8"/>
<path d="M421.00,417.20h2.3M430.50,417.20h2.3" stroke="#fff" stroke-width="0.6" opacity="0.8"/>
<path d="M421.00,434.80h2.3M430.50,434.80h2.3" stroke="#fff" stroke-width="0.6" opacity="0.8"/>
<path d="M421.00,452.40h2.3M430.50,452.40h2.3" stroke="#fff" stroke-width="0.6" opacity="0.8"/>
<text x="436.80" y="402.50" class="lg">0.025</text>
<text x="436.80" y="420.20" class="lg">0.000</text>
<text x="436.80" y="437.80" class="lg">-0.025</text>
<text x="436.80" y="455.40" class="lg">-0.050</text>
</g></svg></div>
</body></html>
